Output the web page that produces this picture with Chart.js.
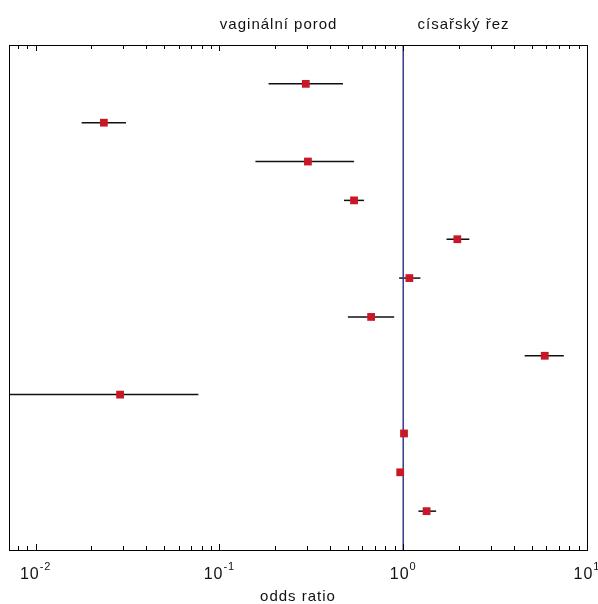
<!DOCTYPE html>
<html>
<head>
<meta charset="utf-8">
<script src="https://cdn.jsdelivr.net/npm/chart.js@4.4.1/dist/chart.umd.min.js"></script>
<style>
  html, body { margin: 0; padding: 0; background: #fff; }
  #wrap { width: 598px; height: 604px; }
</style>
</head>
<body>
<div id="wrap"><canvas id="forest" width="598" height="604"></canvas></div>
<script>
// one row per study, top to bottom
const ROWS = [1, 2, 3, 4, 5, 6, 7, 8, 9, 10, 11, 12];
const ODDS = [0.295, 0.0235, 0.303, 0.54, 1.97, 1.08, 0.669, 5.89, 0.0288, 1.01, 0.963, 1.34];
const CI_LOW = [0.185, 0.0178, 0.157, 0.476, 1.72, 0.95, 0.50, 4.58, 0.003, 1.0, 0.96, 1.21];
const CI_HIGH = [0.47, 0.031, 0.54, 0.612, 2.29, 1.24, 0.893, 7.48, 0.0768, 1.02, 0.97, 1.51];

const DECADES = [-2, -1, 0, 1];
const X_MIN = 0.00716;
const X_MAX = 10;
const AXIS_TITLE = "odds ratio";
const SIDE_LABELS = [
  { text: "vaginální porod", at: 0.21 },
  { text: "císařský řez", at: 2.13 },
];

const FONT = '"Liberation Sans", Arial, sans-serif';
const MARK_RED = "rgb(200, 24, 40)";
const REF_BLUE = "rgb(58, 58, 140)";

function logTicks() {
  const out = [];
  for (let d = -3; d <= 1; d++) {
    for (let m = 1; m <= 9; m++) {
      const v = m * Math.pow(10, d);
      if (v >= X_MIN && v <= X_MAX * 1.0001) out.push({ v, major: m === 1 });
    }
  }
  return out;
}

function spaced(ctx) {
  if ("letterSpacing" in ctx) ctx.letterSpacing = "1px";
}

const frameAndLabels = {
  id: "frameAndLabels",
  afterDraw(chart) {
    const { ctx, chartArea: a, scales } = chart;
    const xs = scales.x;
    ctx.save();

    // frame
    ctx.strokeStyle = "#000";
    ctx.lineWidth = 1;
    ctx.strokeRect(Math.round(a.left) + 0.5, Math.round(a.top) + 0.5,
      Math.round(a.right - a.left), Math.round(a.bottom - a.top));

    // inward ticks, top and bottom
    ctx.beginPath();
    for (const t of logTicks()) {
      const px = Math.round(xs.getPixelForValue(t.v)) + 0.5;
      const len = t.major ? 6 : 4;
      ctx.moveTo(px, a.bottom);
      ctx.lineTo(px, a.bottom - len);
      ctx.moveTo(px, a.top);
      ctx.lineTo(px, a.top + len);
    }
    ctx.stroke();

    // decade labels 10^n
    ctx.fillStyle = "#111";
    ctx.textBaseline = "alphabetic";
    ctx.textAlign = "left";
    spaced(ctx);
    for (const d of DECADES) {
      const px = xs.getPixelForValue(Math.pow(10, d));
      ctx.font = `16px ${FONT}`;
      const baseW = ctx.measureText("10").width;
      ctx.font = `11px ${FONT}`;
      const exp = String(d);
      const expW = ctx.measureText(exp).width;
      const x0 = px - (baseW + expW) / 2;
      ctx.font = `16px ${FONT}`;
      ctx.fillText("10", x0, a.bottom + 29);
      ctx.font = `11px ${FONT}`;
      ctx.fillText(exp, x0 + baseW, a.bottom + 20);
    }

    // axis title
    ctx.font = `15px ${FONT}`;
    ctx.textAlign = "center";
    ctx.fillText(AXIS_TITLE, (a.left + a.right) / 2, a.bottom + 51);

    // group labels above the plot
    for (const s of SIDE_LABELS) {
      ctx.fillText(s.text, xs.getPixelForValue(s.at), a.top - 16);
    }
    ctx.restore();
  },
};

function buildDatasets() {
  const sets = [];
  // confidence intervals
  ROWS.forEach((row, i) => {
    sets.push({
      type: "line",
      data: [{ x: CI_LOW[i], y: row }, { x: CI_HIGH[i], y: row }],
      borderColor: "#111",
      borderWidth: 1.5,
      pointRadius: 0,
      order: 3,
    });
  });
  // no-effect line at OR = 1
  sets.push({
    type: "line",
    data: [{ x: 1, y: 0 }, { x: 1, y: 13 }],
    borderColor: REF_BLUE,
    borderWidth: 1.5,
    pointRadius: 0,
    order: 2,
  });
  // point estimates
  sets.push({
    type: "scatter",
    data: ROWS.map((row, i) => ({ x: ODDS[i], y: row })),
    pointStyle: "rect",
    pointRadius: 5.5,
    backgroundColor: MARK_RED,
    borderColor: MARK_RED,
    borderWidth: 0,
    order: 1,
  });
  return sets;
}

new Chart(document.getElementById("forest"), {
  type: "scatter",
  data: { datasets: buildDatasets() },
  options: {
    responsive: false,
    animation: false,
    events: [],
    layout: { padding: { left: 9, right: 11, top: 45, bottom: 54 } },
    scales: {
      x: { type: "logarithmic", min: X_MIN, max: X_MAX, display: false },
      y: { type: "linear", min: 0, max: 13, reverse: true, display: false },
    },
    plugins: { legend: { display: false }, tooltip: { enabled: false } },
  },
  plugins: [frameAndLabels],
});
</script>
</body>
</html>
